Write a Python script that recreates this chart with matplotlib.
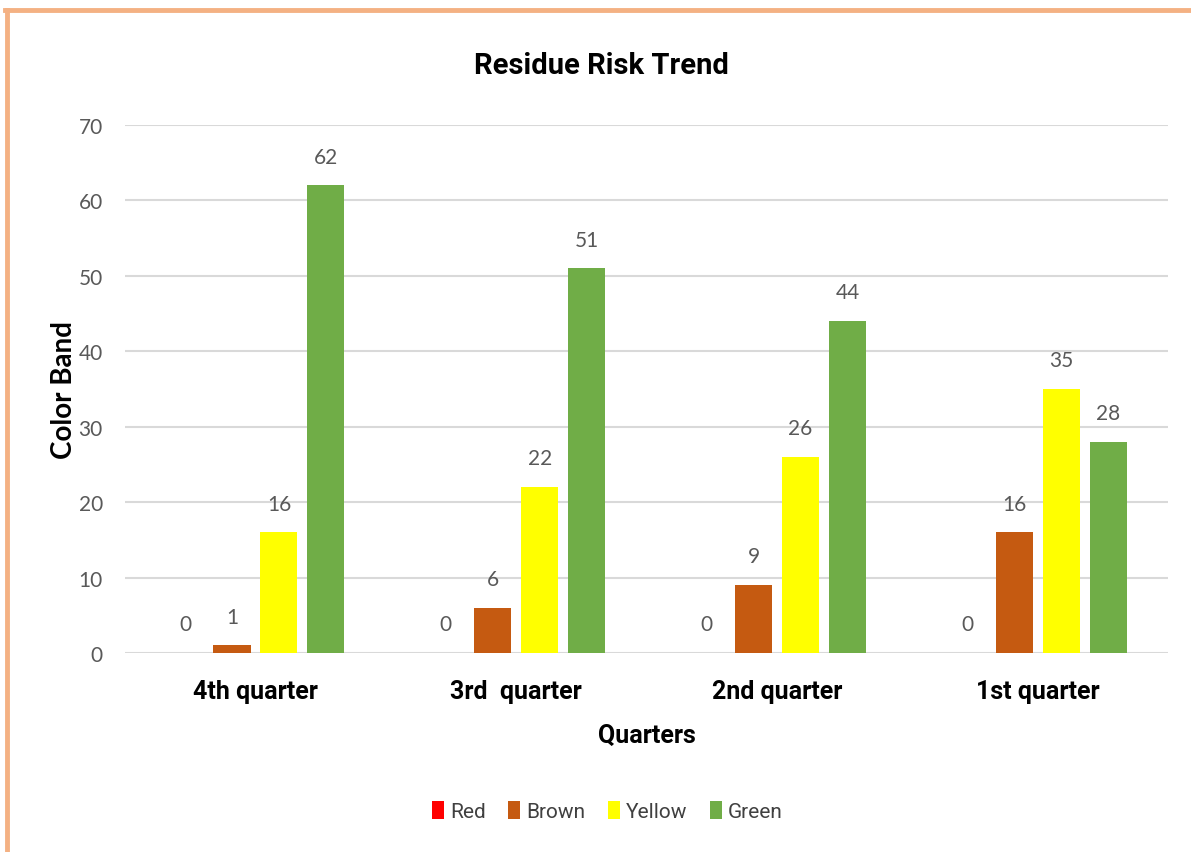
import matplotlib.pyplot as plt
import numpy as np
from matplotlib.lines import Line2D

quarters = ["4th quarter", "3rd  quarter", "2nd quarter", "1st quarter"]
series_names = ["Red", "Brown", "Yellow", "Green"]
red_vals = [0, 0, 0, 0]
brown_vals = [1, 6, 9, 16]
yellow_vals = [16, 22, 26, 35]
green_vals = [62, 51, 44, 28]
y_ticks = [0, 10, 20, 30, 40, 50, 60, 70]

colors = ["#FF0000", "#C55A11", "#FFFF00", "#70AD47"]
narrow = ["Roboto", "DejaVu Sans"]
plain = ["Lato", "DejaVu Sans"]

fig = plt.figure(figsize=(11.91, 8.53), dpi=100)
ax = fig.add_axes([0.105, 0.2333, 0.876, 0.619])

x = np.arange(len(quarters))
step = 0.18
width = 0.142
all_vals = [red_vals, brown_vals, yellow_vals, green_vals]
for i, (name, vals) in enumerate(zip(series_names, all_vals)):
    pos = x + (i - 1.5) * step
    ax.bar(pos, vals, width=width, color=colors[i], label=name, zorder=3)
    for px, v in zip(pos, vals):
        ax.text(px, v + 3.8, str(v), ha="center", va="center",
                fontsize=15, color="#595959", family=plain)

ax.set_xlim(-0.5, len(quarters) - 0.5)
ax.set_ylim(0, 70)
ax.set_yticks(y_ticks)
ax.set_yticklabels([str(t) for t in y_ticks], fontsize=15, color="#595959", family=plain)
ax.set_xticks(x)
ax.set_xticklabels(quarters, fontsize=18, fontweight="bold", family=narrow)
ax.tick_params(axis="both", length=0)
ax.tick_params(axis="y", pad=16)
ax.tick_params(axis="x", pad=19)
ax.grid(axis="y", color="#D9D9D9", linewidth=1.5, zorder=0)
for s in ax.spines.values():
    s.set_visible(False)

ax.set_ylabel("Color Band", fontsize=20, fontweight="bold", family=plain, labelpad=1)
ax.set_xlabel("Quarters", fontsize=18, fontweight="bold", family=narrow, labelpad=14)
fig.text(0.505, 0.923, "Residue Risk Trend", ha="center", va="center",
         fontsize=21, fontweight="bold", family=narrow)

leg = fig.legend(loc="center", bbox_to_anchor=(0.51, 0.048), ncol=4, frameon=False,
                 handlelength=0.55, handleheight=1.0, handletextpad=0.3,
                 columnspacing=1.1, prop={"family": narrow, "size": 15})
for t in leg.get_texts():
    t.set_color("#404040")

# screenshot frame
fig.add_artist(Line2D([0.004, 1.0], [0.987, 0.987], color="#F4B183", linewidth=3.5))
fig.add_artist(Line2D([0.0055, 0.0055], [0.0, 0.987], color="#F4B183", linewidth=3.5))

fig.savefig("out.png", dpi=100)
